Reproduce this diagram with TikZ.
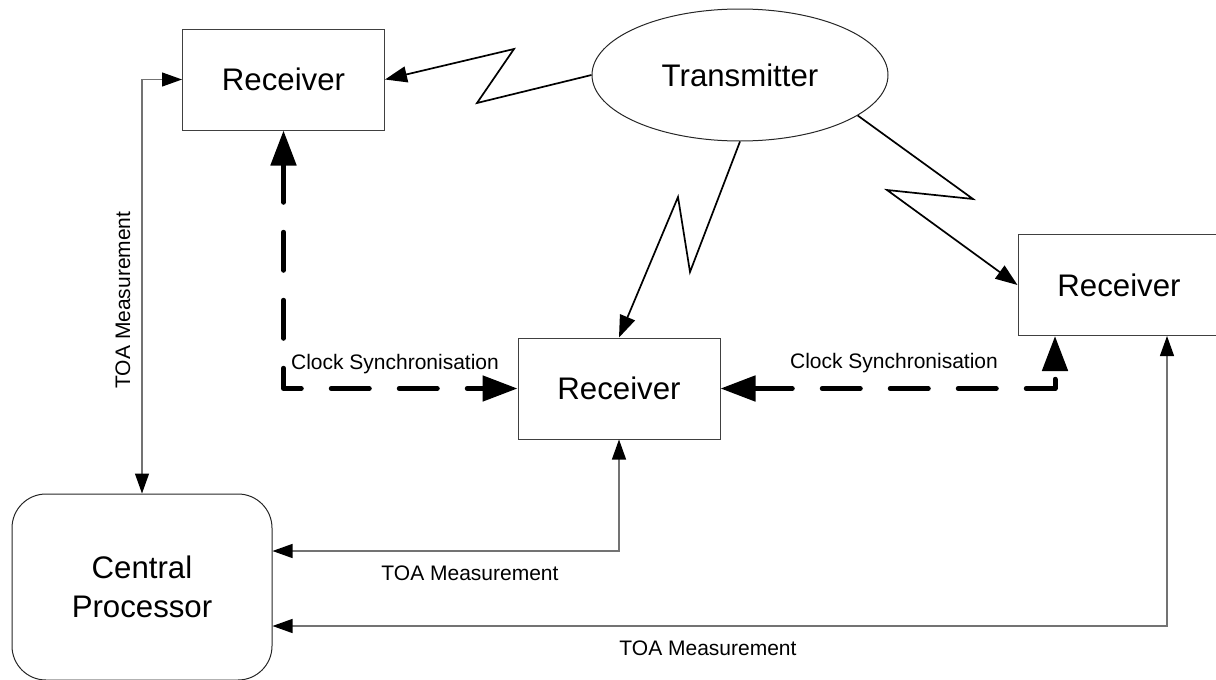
\documentclass[tikz,border=0pt]{standalone}
\usepackage{fontspec}
\setmainfont{Liberation Sans}
\usetikzlibrary{shapes.geometric,arrows.meta}
\begin{document}
\begin{tikzpicture}[x=0.5pt,y=-0.5pt,
    rxbox/.style={draw=black!75,line width=0.5pt,minimum width=101pt,minimum height=50.5pt,inner sep=0pt,font=\fontsize{15.6}{19.5}\selectfont},
    txnode/.style={ellipse,draw=black!85,line width=0.5pt,minimum width=148pt,minimum height=66pt,inner sep=0pt,font=\fontsize{15.6}{19.5}\selectfont},
    cpbox/.style={draw=black!85,line width=0.5pt,rounded corners=17pt,minimum width=130pt,minimum height=93pt,inner sep=0pt,align=center,font=\fontsize{15.6}{19.5}\selectfont},
    lbl/.style={inner sep=0pt,font=\fontsize{10.5}{12.6}\selectfont},
    zap/.style={-{Triangle[length=11pt,width=8pt]},line width=0.85pt},
    sync/.style={{Triangle[length=17.5pt,width=12.5pt]}-{Triangle[length=17.5pt,width=12.5pt]},line width=2.5pt,dash pattern=on 19pt off 15pt,line cap=round,line join=round},
    toa/.style={{Triangle[length=10pt,width=7pt,color=black]}-{Triangle[length=10pt,width=7pt,color=black]},draw=black!55,line width=0.6pt}]
      \useasboundingbox (0,0) rectangle (1216,680);
      \draw
        (283.5,79.5) node[rxbox] (rxNW){Receiver}
        (740,75) node[txnode] (tx){Transmitter}
        (1119,285) node[rxbox] (rxE){Receiver}
        (619,388.5) node[rxbox] (rxC){Receiver}
        (142,587) node[cpbox] (cp){Central\\Processor};
      \draw
        (395,364) node[lbl] (syncW){Clock Synchronisation}
        (894,363) node[lbl] (syncE){Clock Synchronisation}
        (123,300) node[lbl,rotate=90] (toaW){TOA Measurement}
        (470,573) node[lbl] (toaC){TOA Measurement}
        (708,648) node[lbl] (toaE){TOA Measurement};
      % radio links
      \begin{scope}[zap]
        \draw (tx.west) -- (477,103) -- (514,49) -- (rxNW.east);
        \draw (tx.south) -- (690,272) -- (678,197) -- (rxC.north);
        \draw (tx.-19) -- (973,199) -- (887,190) -- (rxE.west);
      \end{scope}
      % clock synchronisation
      \begin{scope}[sync]
        \draw (rxNW.south) |- (rxC.west);
        \draw (rxC.east) -| ([xshift=-32pt]rxE.south);
      \end{scope}
      % measurements to the central processor
      \begin{scope}[toa]
        \draw (rxNW.west) -| (cp.north);
        \draw (rxC.south) |- ([yshift=18pt]cp.east);
        \draw ([xshift=24pt]rxE.south) |- ([yshift=-19.5pt]cp.east);
      \end{scope}
    \end{tikzpicture}
\end{document}
